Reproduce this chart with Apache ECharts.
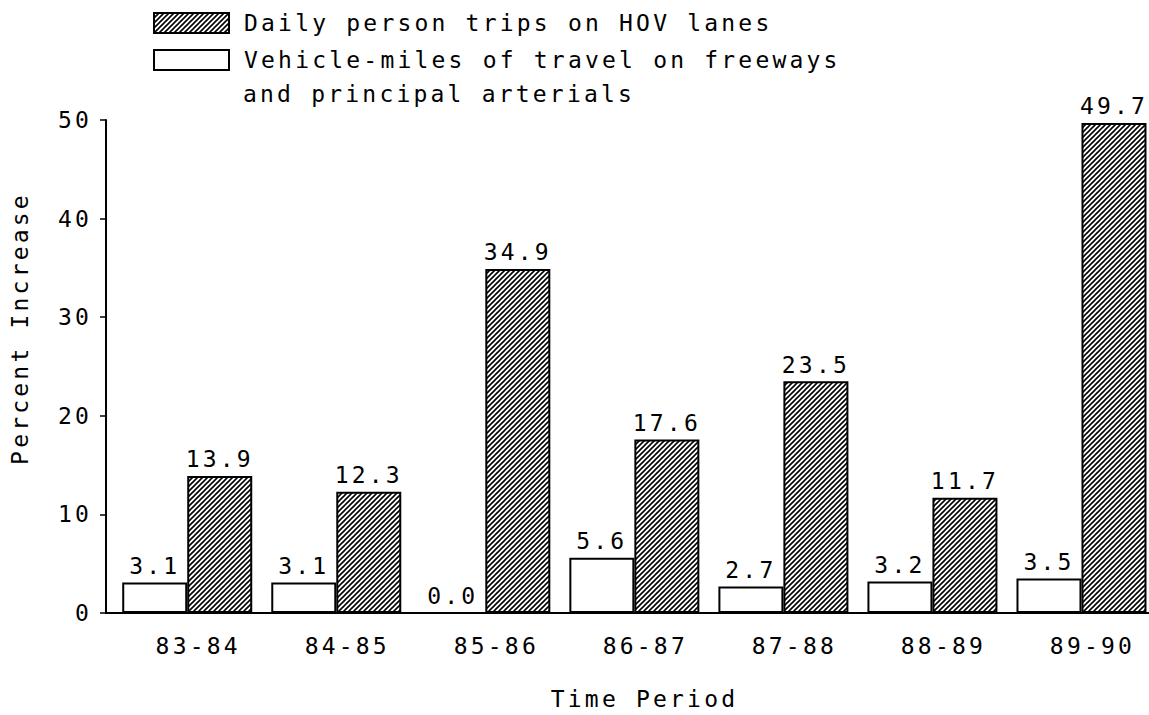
<!DOCTYPE html>
<html><head><meta charset="utf-8">
<script src="https://cdn.jsdelivr.net/npm/echarts@6/dist/echarts.min.js"></script>
<style>
html,body{margin:0;padding:0;background:#fff;}
#chart{width:1149px;height:715px;}
#chart text{letter-spacing:3.2px;}
</style></head><body><div id="chart"></div>
<script>
const categories = ['83-84','84-85','85-86','86-87','87-88','88-89','89-90'];
const vmtValues = [3.1, 3.1, 0.0, 5.6, 2.7, 3.2, 3.5];
const hovValues = [13.9, 12.3, 34.9, 17.6, 23.5, 11.7, 49.7];
const yTicks = [0, 10, 20, 30, 40, 50];
const hovName = 'Daily person trips on HOV lanes';
const vmtName = 'Vehicle-miles of travel on freeways';
const vmtNameCont = 'and principal arterials';
const xName = 'Time Period';
const yName = 'Percent Increase';

const FONT = 'DejaVu Sans Mono';
const FS = 23;

function hatch() {
  const s = 5, c = document.createElement('canvas');
  c.width = s; c.height = s;
  const g = c.getContext('2d');
  g.fillStyle = '#fff'; g.fillRect(0, 0, s, s);
  g.strokeStyle = '#000'; g.lineWidth = 1.6;
  g.beginPath();
  g.moveTo(0, s); g.lineTo(s, 0);
  g.moveTo(-1, 1); g.lineTo(1, -1);
  g.moveTo(s - 1, s + 1); g.lineTo(s + 1, s - 1);
  g.stroke();
  return c;
}

const chart = echarts.init(document.getElementById('chart'), null, {renderer: 'svg'});
const labelStyle = {show: true, position: 'top', distance: 5, color: '#000', fontFamily: FONT, fontSize: FS,
  formatter: p => p.value[1].toFixed(1)};
chart.setOption({
  animation: false,
  backgroundColor: '#fff',
  textStyle: {fontFamily: FONT, color: '#000'},
  grid: {left: 106, right: 0, top: 120, bottom: 97},
  legend: {
    orient: 'vertical', left: 153, top: 5, padding: 0, itemGap: 1,
    itemWidth: 75, itemHeight: 20, icon: 'rect', selectedMode: false,
    textStyle: {fontFamily: FONT, fontSize: FS, color: '#000', lineHeight: 36, padding: [0, 0, 0, 10]},
    data: [hovName, vmtName]
  },
  graphic: [{
    type: 'text', x: 243, y: 94,
    style: {text: vmtNameCont, fill: '#000', font: FS + 'px "' + FONT + '"', verticalAlign: 'middle', align: 'left'}
  }],
  xAxis: {
    type: 'value', min: -0.545, max: 6.453,
    name: xName, nameLocation: 'middle', nameGap: 74,
    nameTextStyle: {fontFamily: FONT, fontSize: FS, color: '#000', padding: [0, 0, 0, 34]},
    axisLine: {show: true, onZero: false, lineStyle: {color: '#000', width: 2}},
    axisTick: {show: false},
    splitLine: {show: false},
    axisLabel: {customValues: categories.map((c, i) => i), formatter: v => categories[Math.round(v)],
      fontFamily: FONT, fontSize: FS, color: '#000', margin: 21, padding: [0, 0, 0, 22]}
  },
  yAxis: {
    type: 'value', min: yTicks[0], max: yTicks[yTicks.length - 1], interval: 10,
    name: yName, nameLocation: 'middle', nameGap: 75, nameRotate: 90,
    nameTextStyle: {fontFamily: FONT, fontSize: FS, color: '#000', padding: [0, 0, 0, 76]},
    axisLine: {show: true, onZero: false, lineStyle: {color: '#000', width: 2}},
    axisTick: {show: true, length: 6, lineStyle: {color: '#000', width: 1.5}},
    splitLine: {show: false},
    axisLabel: {fontFamily: FONT, fontSize: FS, color: '#000', margin: 14}
  },
  series: [
    {name: vmtName, type: 'bar', data: vmtValues.map((v, i) => [i, v]), barWidth: 65, barGap: '0%',
      itemStyle: {color: '#fff', borderColor: '#000', borderWidth: 2}, label: labelStyle},
    {name: hovName, type: 'bar', data: hovValues.map((v, i) => [i, v]), barWidth: 65, barGap: '0%',
      itemStyle: {color: {image: hatch(), repeat: 'repeat'}, borderColor: '#000', borderWidth: 2}, label: labelStyle}
  ]
});
</script></body></html>
